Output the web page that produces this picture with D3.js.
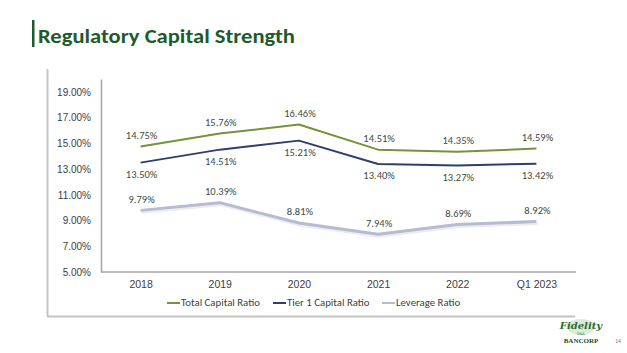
<!DOCTYPE html>
<html>
<head>
<meta charset="utf-8">
<script src="https://cdn.jsdelivr.net/npm/d3@7"></script>
<style>
  body { margin: 0; background: #fff; }
  svg { display: block; font-family: Calibri, Carlito, Lato, "Open Sans", sans-serif; }
</style>
</head>
<body>
<svg id="chart" width="627" height="353"></svg>
<script>
const categories = ['2018', '2019', '2020', '2021', '2022', 'Q1 2023'];
const totalCapital = [14.75, 15.76, 16.46, 14.51, 14.35, 14.59];
const tier1Capital = [13.50, 14.51, 15.21, 13.40, 13.27, 13.42];
const leverage = [9.79, 10.39, 8.81, 7.94, 8.69, 8.92];
const yTicks = [5, 7, 9, 11, 13, 15, 17, 19];

const series = [
  { name: 'Total Capital Ratio', values: totalCapital, color: '#76923c', width: 2, labelDy: -10 },
  { name: 'Tier 1 Capital Ratio', values: tier1Capital, color: '#2f3e6e', width: 2, labelDy: 13 },
  { name: 'Leverage Ratio', values: leverage, color: '#b6bad3', width: 3, labelDy: -10 }
];

const svg = d3.select('#chart');

// title
svg.append('rect').attr('x', 32).attr('y', 20).attr('width', 2.5).attr('height', 27).attr('fill', '#1e5a2c');
svg.append('text')
  .attr('x', 38).attr('y', 43)
  .attr('fill', '#1e5a2c')
  .attr('font-size', 21).attr('font-weight', 'bold')
  .attr('textLength', 257).attr('lengthAdjust', 'spacingAndGlyphs')
  .text('Regulatory Capital Strength');

// frame (left and bottom edges of the chart box)
svg.append('line').attr('x1', 47.5).attr('x2', 47.5).attr('y1', 69).attr('y2', 316.5)
  .attr('stroke', '#c4c4c4').attr('stroke-width', 2);
svg.append('line').attr('x1', 47).attr('x2', 575).attr('y1', 316.5).attr('y2', 316.5)
  .attr('stroke', '#c4c4c4').attr('stroke-width', 2);

const margin = { left: 101, right: 51, top: 79, bottom: 81 };
const width = 627, height = 353;

const x = d3.scalePoint()
  .domain(categories)
  .range([margin.left, width - margin.right])
  .padding(0.5);

const y = d3.scaleLinear()
  .domain([5, 20])
  .range([height - margin.bottom, margin.top]);

const xAxis = d3.axisBottom(x).tickSize(0).tickPadding(9);
const yAxis = d3.axisLeft(y).tickValues(yTicks).tickSize(0).tickPadding(10)
  .tickFormat(d => d.toFixed(2) + '%');

const gx = svg.append('g')
  .attr('transform', `translate(0,${y(5)})`)
  .call(xAxis);
gx.select('.domain').attr('d', `M${margin.left},0H${width - margin.right}`)
  .attr('stroke', '#a6a6a6').attr('stroke-width', 1.5);
gx.selectAll('text').attr('font-size', 10.5).attr('fill', '#404040');

const gy = svg.append('g')
  .attr('transform', `translate(${margin.left},0)`)
  .call(yAxis);
gy.select('.domain').attr('stroke', '#a6a6a6').attr('stroke-width', 1.5);
gy.selectAll('text').attr('font-size', 10).attr('fill', '#404040');

const line = d3.line()
  .x((d, i) => x(categories[i]))
  .y(d => y(d));

// soft shadow for the leverage line
svg.append('path')
  .datum(leverage)
  .attr('fill', 'none')
  .attr('stroke', '#ececef')
  .attr('stroke-width', 3)
  .attr('transform', 'translate(1,2)')
  .attr('d', line);

series.forEach(s => {
  svg.append('path')
    .datum(s.values)
    .attr('fill', 'none')
    .attr('stroke', s.color)
    .attr('stroke-width', s.width)
    .attr('stroke-linejoin', 'round')
    .attr('d', line);

  svg.append('g')
    .selectAll('text').data(s.values).enter().append('text')
    .attr('x', (d, i) => x(categories[i]) + 1)
    .attr('y', d => y(d) + s.labelDy)
    .attr('text-anchor', 'middle')
    .attr('dominant-baseline', 'middle')
    .attr('font-size', 10.5)
    .attr('fill', '#404a40')
    .text(d => d.toFixed(2) + '%');
});

// legend
const legendX = [167, 273, 382];
const legend = svg.append('g').attr('transform', 'translate(0,303)');
series.forEach((s, i) => {
  legend.append('line')
    .attr('x1', legendX[i]).attr('x2', legendX[i] + 13)
    .attr('stroke', s.color).attr('stroke-width', 2);
  legend.append('text')
    .attr('x', legendX[i] + 14).attr('y', 0)
    .attr('dominant-baseline', 'middle')
    .attr('font-size', 10.8).attr('fill', '#404040')
    .text(s.name);
});

// logo and page number
const logo = svg.append('g').attr('transform', 'translate(581,334)');
logo.append('ellipse').attr('cx', 0).attr('cy', -7).attr('rx', 14).attr('ry', 8).attr('fill', '#dcebd6');
logo.append('text').attr('x', 0).attr('y', -5).attr('text-anchor', 'middle')
  .attr('font-family', '"DejaVu Serif", serif').attr('font-style', 'italic').attr('font-weight', 'bold')
  .attr('font-size', 10).attr('fill', '#2e6b35').text('Fidelity');
logo.append('text').attr('x', 0).attr('y', 1).attr('text-anchor', 'middle')
  .attr('font-family', '"DejaVu Serif", serif').attr('font-size', 3.5).attr('fill', '#2e6b35').text('D&L');
logo.append('text').attr('x', 0).attr('y', 9).attr('text-anchor', 'middle')
  .attr('font-family', '"Liberation Serif", serif').attr('font-weight', 'bold')
  .attr('font-size', 7).attr('fill', '#1e4d25').text('BANCORP');
svg.append('text').attr('x', 618).attr('y', 343).attr('text-anchor', 'middle')
  .attr('font-size', 6).attr('fill', '#7f7f7f').text('14');
</script>
</body>
</html>
